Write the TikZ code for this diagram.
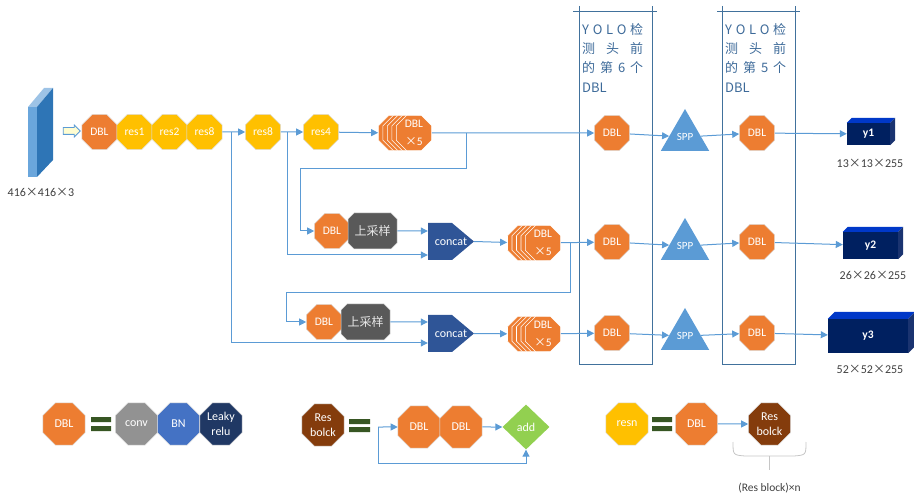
\documentclass[tikz,border=0pt]{standalone}
\usepackage{fontspec}
\setmainfont{Carlito}
\newfontfamily\cjk{Noto Sans CJK SC}
\usetikzlibrary{shapes.geometric,shapes.misc,shapes.arrows,arrows.meta,calc}

\definecolor{dorange}{HTML}{ED7D31}
\definecolor{dyellow}{HTML}{FFC000}
\definecolor{lineblue}{HTML}{5B9BD5}
\definecolor{sppblue}{HTML}{5B9BD5}
\definecolor{catblue}{HTML}{2F5597}
\definecolor{upgray}{HTML}{595959}
\definecolor{convgray}{HTML}{929292}
\definecolor{bnblue}{HTML}{4472C4}
\definecolor{relunavy}{HTML}{203864}
\definecolor{resbrown}{HTML}{843C0C}
\definecolor{addgreen}{HTML}{92D050}
\definecolor{eqgreen}{HTML}{375623}
\definecolor{boxline}{HTML}{41719C}
\definecolor{coltext}{HTML}{3D6A99}
\definecolor{ynavy}{HTML}{002060}
\definecolor{ytop}{HTML}{0038C8}
\definecolor{yside}{HTML}{1A3370}
\definecolor{slabfront}{HTML}{6AA6DC}
\definecolor{slabside}{HTML}{2E75B6}
\definecolor{slabtop}{HTML}{9DC3E6}
\definecolor{labgray}{HTML}{404040}

\newcommand{\tms}{{\cjk ×}}

\begin{document}
\begin{tikzpicture}[x=1pt,y=-1pt]
        \tikzstyle{oct}=[regular polygon, regular polygon sides=8, minimum size=38pt, inner sep=0pt, draw=white!75!gray, line width=0.5pt, text=white, align=center, font=\fontsize{11.5}{12}\selectfont]
        \tikzstyle{big}=[oct, minimum size=45.5pt, font=\fontsize{12}{15}\selectfont]
        \tikzstyle{stk}=[oct, fill=dorange, draw=white, line width=0.6pt, font=\fontsize{11.5}{17.5}\selectfont]
        \tikzstyle{link}=[draw=lineblue, line width=1pt, -{Triangle[length=7pt,width=7pt]}]
        \tikzstyle{upbox}=[chamfered rectangle, chamfered rectangle xsep=3pt, chamfered rectangle ysep=3pt, minimum width=49pt, minimum height=36pt, inner sep=0pt, fill=upgray, draw=white!70!gray, line width=0.5pt, text=white!82!gray, font=\cjk\fontsize{12}{14}\selectfont]
        \tikzstyle{cat}=[minimum width=46pt, minimum height=37pt, inner sep=0pt, text=white, font=\fontsize{12}{14}\selectfont,
            path picture={\fill[catblue] (path picture bounding box.north west) -- ([xshift=-22pt]path picture bounding box.north east) -- (path picture bounding box.east) -- ([xshift=-22pt]path picture bounding box.south east) -- (path picture bounding box.south west) -- cycle;}]
        \tikzstyle{spp}=[regular polygon, regular polygon sides=3, minimum size=56pt, inner sep=0pt, fill=sppblue, text=white, font=\fontsize{11}{12}\selectfont]
        \tikzstyle{ybox}=[inner sep=0pt, fill=ynavy, text=white, font=\bfseries\fontsize{11.5}{13}\selectfont]
        \tikzstyle{dimlab}=[inner sep=0pt, text=labgray, font=\fontsize{12}{14}\selectfont]
        \tikzstyle{coltxt}=[anchor=north west, inner sep=0pt, align=left, text=coltext, font=\cjk\fontsize{13}{19.3}\selectfont]

        \useasboundingbox (0,0) rectangle (914,497);

        \fill[slabfront] (28,107) rectangle (37,177);
        \fill[slabtop] (28,107) -- (44,88) -- (53,88) -- (37,107) -- cycle;
        \fill[slabside] (37,107) -- (53,88) -- (53,160) -- (37,177) -- cycle;
        \node[dimlab] (d0) at (41,192) {416\tms416\tms3};
        \node[single arrow, single arrow head extend=2.5pt, minimum height=17pt, minimum width=11pt, inner xsep=0pt, inner ysep=3pt, fill=yellow!18, draw=lineblue, line width=0.8pt] (inarr) at (70,131) {};

        \node[oct, fill=dorange] (dbl0) at (99.5,132) {DBL};
        \node[oct, fill=dyellow] (resA) at (134.5,132) {res1};
        \node[oct, fill=dyellow] (resB) at (169.5,132) {res2};
        \node[oct, fill=dyellow] (resC) at (204.5,132) {res8};
        \node[oct, fill=dyellow] (resD) at (263,132) {res8};
        \node[oct, fill=dyellow] (resE) at (321,132) {res4};
        \foreach \k in {4,...,1}
            \node[stk] (s1b\k) at (414-4.5*\k,133) {};
        \node[stk] (s1) at (414,133) {DBL\\\tms 5};

        \node[oct, fill=dorange] (dbl2) at (332,231) {DBL};
        \node[upbox] (up2) at (372.5,231) {上采样};
        \node[cat] (cat2) at (451,241.5) {concat};
        \foreach \k in {4,...,1}
            \node[stk] (s2b\k) at (543-4.5*\k,243) {};
        \node[stk] (s2) at (543,243) {DBL\\\tms 5};

        \node[oct, fill=dorange] (dbl3) at (324,322) {DBL};
        \node[upbox] (up3) at (365.5,322) {上采样};
        \node[cat] (cat3) at (451,333.5) {concat};
        \foreach \k in {4,...,1}
            \node[stk] (s3b\k) at (543-4.5*\k,334) {};
        \node[stk] (s3) at (543,334) {DBL\\\tms 5};

        \draw[boxline, line width=1pt] (579,6) -- (579,365) -- (652,365) -- (652,6);
        \draw[boxline, line width=1pt] (573,12) -- (657,12);
        \draw[boxline, line width=1pt] (722,6) -- (722,365) -- (795,365) -- (795,6);
        \draw[boxline, line width=1pt] (717,12) -- (800,12);
        \node[coltxt] (h6) at (582,23) {\makebox[61pt][s]{Y O L O 检}\\\makebox[61pt][s]{测 头 前}\\\makebox[61pt][s]{的 第 6 个}\\DBL};
        \node[coltxt] (h5) at (725,23) {\makebox[61pt][s]{Y O L O 检}\\\makebox[61pt][s]{测 头 前}\\\makebox[61pt][s]{的 第 5 个}\\DBL};

        \node[oct, fill=dorange] (c6a) at (612,133) {DBL};
        \node[oct, fill=dorange] (c6b) at (612,242) {DBL};
        \node[oct, fill=dorange] (c6c) at (612,333) {DBL};
        \node[spp] (sp1) at (685,137) {SPP};
        \node[spp] (sp2) at (685,246) {SPP};
        \node[spp] (sp3) at (685,336) {SPP};
        \node[oct, fill=dorange] (c5a) at (757,133) {DBL};
        \node[oct, fill=dorange] (c5b) at (757,242) {DBL};
        \node[oct, fill=dorange] (c5c) at (757,333) {DBL};

        \node[ybox, minimum width=43pt, minimum height=22pt] (y1) at (868.5,134) {y1};
        \node[ybox, minimum width=55pt, minimum height=27pt] (y2) at (870.5,245.5) {y2};
        \node[ybox, minimum width=80pt, minimum height=34pt] (y3) at (868,336) {y3};
        \foreach \n/\d in {y1/5,y2/5,y3/7} {
            \fill[ytop] (\n.north west) -- ($(\n.north west)+(\d,-\d)$) -- ($(\n.north east)+(\d,-\d)$) -- (\n.north east) -- cycle;
            \fill[yside] (\n.north east) -- ($(\n.north east)+(\d,-\d)$) -- ($(\n.south east)+(\d,-\d)$) -- (\n.south east) -- cycle;
        }
        \node[dimlab] (d1) at (870,163) {13\tms13\tms255};
        \node[dimlab] (d2) at (873,275) {26\tms26\tms255};
        \node[dimlab] (d3) at (870,369) {52\tms52\tms255};

        \coordinate (br1) at (231,132);
        \coordinate (br2) at (287,132);
        \coordinate (br3) at (466,133);
        \coordinate (br4) at (570,243);
        \draw[link] (resC) -- (resD);
        \draw[link] (resD) -- (resE);
        \draw[link] (resE) -- (s1b4);
        \draw[link] (br1) |- ($(cat3.west)+(0,9.5)$);
        \draw[link] (br2) |- ($(cat2.west)+(0,13.5)$);
        \draw[link] (br3) -- ++(0,36) -| ([xshift=-14pt]dbl2.west) -- (dbl2.west);
        \draw[link] (br4) -- ++(0,50) -| ([xshift=-20pt]dbl3.west) -- (dbl3.west);
        \draw[link] (up2) -- (up2 -| cat2.west);
        \draw[link] (up3) -- (up3 -| cat3.west);
        \draw[link] (cat2.east) -- (s2b4);
        \draw[link] (cat3.east) -- (s3b4);
        \draw[link] (s1) -- (c6a);
        \draw[link] (s2) -- (c6b);
        \draw[link] (s3) -- (c6c);
        \draw[link] (c6a) -- (sp1);
        \draw[link] (c6b) -- (sp2);
        \draw[link] (c6c) -- (sp3);
        \draw[link] (sp1) -- (c5a);
        \draw[link] (sp2) -- (c5b);
        \draw[link] (sp3) -- (c5c);
        \draw[link] (c5a) -- (y1);
        \draw[link] (c5b) -- (y2);
        \draw[link] (c5c) -- (y3);

        \node[big, fill=dorange] (lDBL) at (64,424) {DBL};
        \fill[eqgreen] (91,417) rectangle (111,422) (91,426) rectangle (111,431);
        \node[big, fill=convgray] (conv) at (136.5,424) {conv};
        \node[big, fill=bnblue] (bn) at (178.5,424) {BN};
        \node[big, fill=relunavy] (relu) at (221,424) {Leaky\\relu};

        \node[big, fill=resbrown] (lRes) at (323,425) {Res\\bolck};
        \fill[eqgreen] (349,419) rectangle (370,424) (349,427) rectangle (370,432);
        \node[big, fill=dorange] (lD1) at (419,427) {DBL};
        \node[big, fill=dorange] (lD2) at (461,427) {DBL};
        \node[diamond, minimum width=47pt, minimum height=45pt, inner sep=0pt, fill=addgreen, text=white, font=\fontsize{12}{14}\selectfont] (add) at (526,427) {add};
        \coordinate (lgS) at (378,427);
        \draw[link] (lgS) -- (lD1);
        \draw[link] (lD2) -- (add);
        \draw[link] (lgS) -- ++(0,36) -| (add.south);

        \node[big, fill=dyellow] (resn) at (627,424) {resn};
        \fill[eqgreen] (652,417) rectangle (672,422) (652,426) rectangle (672,431);
        \node[big, fill=dorange] (nD) at (696.5,424) {DBL};
        \node[big, fill=resbrown] (nRes) at (769.5,424) {Res\\bolck};
        \draw[link] (nD) -- (nRes);
        \draw[gray!45, line width=0.8pt] (733,442) .. controls (733,455) .. (745,456) -- (794,456) .. controls (806,455) .. (806,442);
        \draw[gray!45, line width=0.8pt] (769.5,456) -- (769.5,470);
        \node[dimlab, font=\fontsize{11.5}{13}\selectfont] (nlab) at (769.5,488) {(Res block)×n};
\end{tikzpicture}
\end{document}
